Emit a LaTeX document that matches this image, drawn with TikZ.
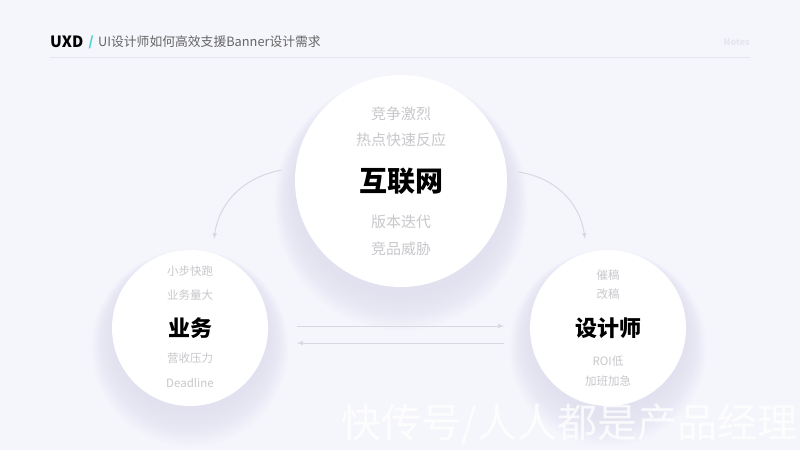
\documentclass[tikz,border=0pt]{standalone}
\usepackage{fontspec}
\setmainfont{Noto Sans CJK SC}
\usetikzlibrary{positioning,arrows}
\definecolor{bg}{HTML}{F5F5FC}
\definecolor{halo}{HTML}{D2D2F0}
\definecolor{soft}{HTML}{C8C8CC}
\definecolor{uxdteal}{HTML}{3ED5C6}
\definecolor{rule}{HTML}{E6E6EF}
\definecolor{wire}{HTML}{D8D8E2}
\tikzstyle{bubble}=[circle, fill=white, inner sep=0pt]
\tikzstyle{tag}=[text=soft, inner sep=1pt]
\tikzstyle{flow}=[->, draw=wire, line width=1pt]
\newcommand{\fs}[1]{\fontsize{#1}{#1}\selectfont}

\begin{document}
\begin{tikzpicture}[x=1pt,y=1pt,>=latex]
\fill[bg] (0,0) rectangle (800,450);
\useasboundingbox (0,0) rectangle (800,450);

% header
\node[anchor=west, inner sep=0pt, font=\fs{15.5}\bfseries] at (50,408) (uxd) {UXD};
\node[right=5pt of uxd, inner sep=0pt, text=uxdteal, font=\fs{13}\bfseries] (slash) {/};
\node[right=4pt of slash, inner sep=0pt, text=black!60, font=\fs{12.8}] (title) {UI设计师如何高效支援Banner设计需求};
\node[anchor=east, inner sep=0pt, text=rule, font=\fs{9}\bfseries] at (750,408) (notes) {Notes};
\draw[rule] (50,393) -- (750,393);

% soft shadows
\foreach \i in {1,...,14} {
  \fill[halo, opacity=0.045] (401,260-\i) circle ({104+1.6*\i});
  \fill[halo, opacity=0.045] (190,116-\i) circle ({76+1.6*\i});
  \fill[halo, opacity=0.045] (608,116-\i) circle ({76+1.6*\i});
}

% internet
\node[bubble, minimum size=212pt, font=\fs{28}\bfseries] at (401,269) (net) {互联网};
\node[tag, font=\fs{15}, above of=net, node distance=41pt] (net2) {热点快速反应};
\node[tag, font=\fs{15}, above of=net, node distance=67pt] (net1) {竞争激烈};
\node[tag, font=\fs{15}, below of=net, node distance=41pt] (net3) {版本迭代};
\node[tag, font=\fs{15}, below of=net, node distance=68pt] (net4) {竞品威胁};

% business
\node[bubble, minimum size=156pt, font=\fs{22}\bfseries] at (190,122) (biz) {业务};
\node[tag, font=\fs{11.5}, above of=biz, node distance=57pt] (biz1) {小步快跑};
\node[tag, font=\fs{11.5}, above of=biz, node distance=33pt] (biz2) {业务量大};
\node[tag, font=\fs{11.5}, below of=biz, node distance=30pt] (biz3) {营收压力};
\node[tag, font=\fs{11.5}, below of=biz, node distance=55pt] (biz4) {Deadline};

% designer
\node[bubble, minimum size=156pt, font=\fs{22}\bfseries] at (608,122) (des) {设计师};
\node[tag, font=\fs{11.5}, above of=des, node distance=53pt] (des1) {催稿};
\node[tag, font=\fs{11.5}, above of=des, node distance=34pt] (des2) {改稿};
\node[tag, font=\fs{11.5}, below of=des, node distance=33pt] (des3) {ROI低};
\node[tag, font=\fs{11.5}, below of=des, node distance=53pt] (des4) {加班加急};

% arrows
\coordinate (a1) at (282,280);
\coordinate (a2) at (214,211);
\draw[flow] (a1) to[out=190,in=82] (a2);
\coordinate (b1) at (518,278);
\coordinate (b2) at (585,211);
\draw[flow] (b1) to[out=-8,in=98] (b2);

\coordinate (r1) at (297,124);
\coordinate (r2) at (504,124);
\draw[flow] (r1) -- (r2);
\coordinate (l1) at (504,107);
\coordinate (l2) at (297,107);
\draw[flow] (l1) -- (l2);

\node[anchor=west, text=white, opacity=0.8, font=\fs{40}] at (338,26) (mark) {快传号/人人都是产品经理};
\end{tikzpicture}
\end{document}
